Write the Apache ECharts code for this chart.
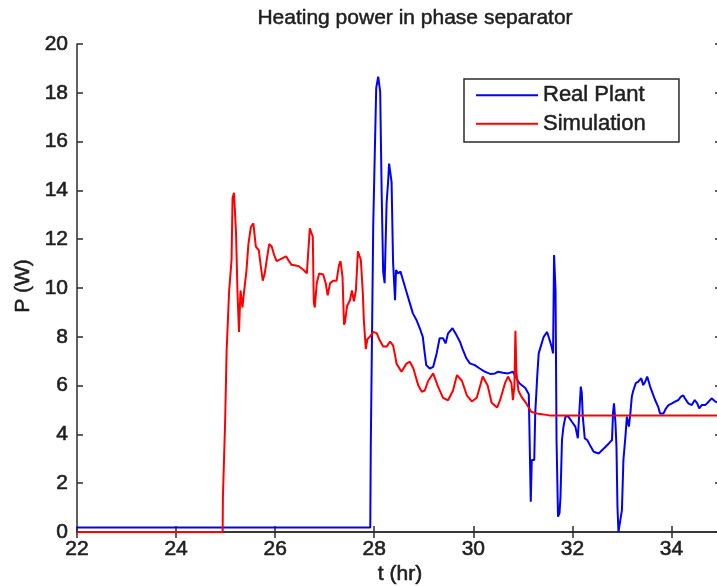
<!DOCTYPE html>
<html>
<head>
<meta charset="utf-8">
<script src="https://cdn.jsdelivr.net/npm/echarts@6/dist/echarts.min.js"></script>
<style>
html,body{margin:0;padding:0;background:#fff;}
#c{width:717px;height:586px;}
</style>
</head>
<body>
<div id="c"></div>
<script>
// ---- data ----
const titleText = "Heating power in phase separator";
const xLabel = "t (hr)";
const yLabel = "P (W)";
const seriesNames = ["Real Plant", "Simulation"];
const xTicks = [22, 24, 26, 28, 30, 32, 34];
const yTicks = [0, 2, 4, 6, 8, 10, 12, 14, 16, 18, 20];

const realT = [22, 27.92, 27.93, 27.97, 27.98, 28.04, 28.08, 28.12, 28.15, 28.18, 28.21, 28.25, 28.28, 28.30, 28.33, 28.35, 28.38, 28.42, 28.44, 28.48, 28.53, 28.58, 28.65, 28.72, 28.78, 28.85, 28.92, 28.98, 29.02, 29.05, 29.12, 29.19, 29.26, 29.32, 29.39, 29.44, 29.49, 29.58, 29.66, 29.73, 29.79, 29.86, 29.93, 30.03, 30.13, 30.23, 30.34, 30.44, 30.50, 30.60, 30.70, 30.80, 30.87, 30.93, 31.05, 31.12, 31.14, 31.16, 31.18, 31.23, 31.25, 31.29, 31.32, 31.38, 31.42, 31.49, 31.54, 31.58, 31.61, 31.63, 31.66, 31.68, 31.71, 31.74, 31.76, 31.79, 31.82, 31.86, 31.92, 31.99, 32.06, 32.11, 32.15, 32.17, 32.19, 32.21, 32.25, 32.30, 32.37, 32.43, 32.53, 32.64, 32.74, 32.80, 32.82, 32.84, 32.87, 32.89, 32.91, 32.93, 32.97, 33.00, 33.03, 33.07, 33.10, 33.14, 33.17, 33.20, 33.23, 33.28, 33.33, 33.39, 33.43, 33.47, 33.51, 33.54, 33.57, 33.62, 33.67, 33.73, 33.77, 33.84, 33.89, 33.94, 34.01, 34.07, 34.14, 34.19, 34.24, 34.27, 34.34, 34.41, 34.47, 34.52, 34.56, 34.61, 34.68, 34.75, 34.81, 34.89, 35.0];
const realP = [0.18, 0.18, 3.45, 3.45, 12.6, 18.2, 18.66, 18.05, 13.9, 10.67, 10.2, 13.5, 14.35, 15.1, 15.1, 14.35, 11.08, 9.5, 10.74, 10.6, 10.67, 10.33, 9.85, 9.37, 8.96, 8.7, 8.35, 8.0, 7.32, 6.84, 6.7, 6.77, 7.32, 7.94, 7.94, 7.73, 8.14, 8.35, 8.07, 7.8, 7.46, 7.12, 6.91, 6.84, 6.7, 6.57, 6.48, 6.5, 6.57, 6.53, 6.5, 6.57, 6.3, 6.1, 5.9, 5.65, 5.6, 1.24, 2.95, 2.95, 4.86, 6.37, 7.32, 7.73, 8.0, 8.2, 7.87, 7.6, 7.32, 11.35, 9.9, 3.77, 0.63, 0.77, 1.45, 3.77, 4.32, 4.73, 4.73, 4.52, 4.32, 3.84, 3.77, 5.96, 5.7, 4.73, 3.84, 3.77, 3.5, 3.29, 3.22, 3.43, 3.64, 3.77, 4.86, 5.27, 4.45, 3.5, 1.04, 0.01, 0.08, 0.9, 2.95, 3.9, 4.73, 4.32, 4.86, 5.55, 5.8, 6.1, 6.16, 6.3, 6.02, 6.16, 6.37, 6.43, 5.96, 5.68, 5.41, 5.14, 4.86, 4.86, 5.07, 5.2, 5.27, 5.34, 5.41, 5.55, 5.6, 5.48, 5.27, 5.2, 5.41, 5.27, 5.07, 5.2, 5.2, 5.34, 5.48, 5.34, 5.3];

const simT = [22, 24.94, 24.945, 24.99, 25.02, 25.07, 25.12, 25.14, 25.17, 25.21, 25.24, 25.27, 25.30, 25.34, 25.37, 25.42, 25.46, 25.51, 25.56, 25.61, 25.67, 25.71, 25.75, 25.79, 25.83, 25.88, 25.93, 25.98, 26.03, 26.13, 26.22, 26.28, 26.33, 26.47, 26.57, 26.64, 26.70, 26.72, 26.76, 26.78, 26.80, 26.84, 26.89, 26.97, 27.02, 27.06, 27.11, 27.17, 27.24, 27.29, 27.32, 27.36, 27.39, 27.41, 27.45, 27.51, 27.55, 27.59, 27.63, 27.67, 27.70, 27.73, 27.77, 27.79, 27.83, 27.86, 27.91, 27.98, 28.05, 28.10, 28.18, 28.25, 28.32, 28.38, 28.42, 28.45, 28.55, 28.65, 28.72, 28.79, 28.89, 28.96, 29.02, 29.09, 29.19, 29.29, 29.39, 29.49, 29.59, 29.67, 29.77, 29.87, 29.97, 30.07, 30.19, 30.29, 30.37, 30.48, 30.54, 30.64, 30.70, 30.77, 30.80, 30.83, 30.85, 30.87, 30.91, 30.97, 31.07, 31.17, 31.28, 31.48, 31.55, 35.0];
const simP = [0, 0, 1.4, 4.5, 7.4, 9.85, 11.15, 13.7, 13.9, 12.25, 9.8, 8.2, 9.9, 9.2, 9.8, 10.7, 11.8, 12.5, 12.65, 11.7, 11.55, 10.9, 10.3, 10.6, 11.15, 11.8, 11.7, 11.35, 11.1, 11.2, 11.3, 11.1, 10.95, 10.9, 10.75, 10.6, 12.45, 12.4, 12.1, 9.4, 9.2, 10.2, 10.6, 10.55, 10.2, 9.7, 10.2, 10.3, 10.3, 10.95, 11.1, 10.45, 8.5, 8.6, 9.25, 9.5, 9.9, 9.45, 9.9, 11.5, 11.55, 11.15, 9.8, 8.7, 7.5, 7.9, 8.0, 8.2, 8.15, 7.9, 7.6, 7.6, 7.8, 7.65, 7.25, 6.9, 6.57, 6.9, 6.98, 6.7, 6.0, 5.75, 5.8, 6.2, 6.5, 5.95, 5.5, 5.4, 5.8, 6.43, 6.2, 5.6, 5.35, 5.5, 6.37, 6.0, 5.3, 5.1, 5.4, 6.1, 6.37, 6.1, 5.4, 6.0, 8.25, 6.57, 5.8, 5.55, 5.27, 4.93, 4.86, 4.8, 4.77, 4.77];

// ---- chart ----
const zip = (a, b) => a.map((v, i) => [v, b[i]]);
const axisColor = '#2b2b2b';
const textColor = '#1e1e1e';
const font = 'Liberation Sans, Arial, sans-serif';
const chart = echarts.init(document.getElementById('c'), null, {renderer: 'canvas'});

const commonAxisLine = {show: true, lineStyle: {color: axisColor, width: 1.5}};
const commonTick = {show: true, inside: true, length: 6, lineStyle: {color: axisColor, width: 1.5}};
const labelStyle = {color: textColor, fontSize: 21, fontFamily: font, textBorderColor: textColor, textBorderWidth: 0.6};

chart.setOption({
  animation: false,
  backgroundColor: '#fff',
  grid: {left: 77, top: 44, width: 644, height: 488, containLabel: false, outerBoundsMode: 'none'},
  legend: {
    data: seriesNames,
    orient: 'vertical',
    left: 464, top: 79,
    padding: [5, 33, 7, 12],
    itemWidth: 62, itemHeight: 14, itemGap: 6,
    borderColor: axisColor, borderWidth: 1.5,
    backgroundColor: '#fff',
    textStyle: {color: textColor, fontSize: 22, fontFamily: font, lineHeight: 22, textBorderColor: textColor, textBorderWidth: 0.5},
    icon: 'path://M0,6 L62,6 L62,8 L0,8 Z'
  },
  xAxis: [{
    type: 'value', min: 22, max: 35, interval: 2,
    axisLine: commonAxisLine, axisTick: commonTick,
    axisLabel: Object.assign({margin: 7, formatter: v => (xTicks.indexOf(v) >= 0 ? String(v) : '')}, labelStyle),
    splitLine: {show: false}
  }, {
    type: 'value', min: 22, max: 35, interval: 2, position: 'top',
    axisLine: commonAxisLine, axisTick: commonTick,
    axisLabel: {show: false}, splitLine: {show: false}
  }],
  yAxis: [{
    type: 'value', min: 0, max: 20, interval: 2,
    axisLine: commonAxisLine, axisTick: commonTick,
    axisLabel: Object.assign({margin: 9, formatter: v => (yTicks.indexOf(v) >= 0 ? String(v) : '')}, labelStyle),
    splitLine: {show: false}
  }, {
    type: 'value', min: 0, max: 20, interval: 2, position: 'right',
    axisLine: commonAxisLine, axisTick: commonTick,
    axisLabel: {show: false}, splitLine: {show: false}
  }],
  series: [{
    name: seriesNames[0], type: 'line', data: zip(realT, realP),
    symbol: 'none', lineStyle: {color: '#0000ff', width: 2}, itemStyle: {color: '#0000ff'}
  }, {
    name: seriesNames[1], type: 'line', data: zip(simT, simP),
    symbol: 'none', lineStyle: {color: '#ff0000', width: 2}, itemStyle: {color: '#ff0000'}
  }],
  graphic: [{
    type: 'text', x: 415, y: 18,
    style: {text: titleText, fill: textColor, font: '21px ' + font, textAlign: 'center', textVerticalAlign: 'middle', stroke: textColor, lineWidth: 0.5}
  }, {
    type: 'text', x: 400, y: 574,
    style: {text: xLabel, fill: textColor, font: '21px ' + font, textAlign: 'center', textVerticalAlign: 'middle', stroke: textColor, lineWidth: 0.6}
  }, {
    type: 'text', x: 23, y: 286, rotation: Math.PI / 2,
    style: {text: yLabel, fill: textColor, font: '21px ' + font, textAlign: 'center', textVerticalAlign: 'middle', stroke: textColor, lineWidth: 0.6}
  }]
});
</script>
</body>
</html>
